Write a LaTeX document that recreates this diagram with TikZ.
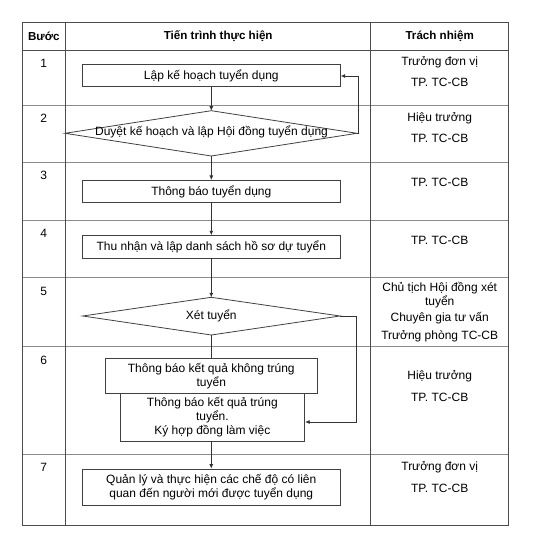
\documentclass[tikz,border=0pt]{standalone}
\usepackage{fontspec}
\setmainfont{Liberation Sans}
\usetikzlibrary{arrows.meta}
\begin{document}
\begin{tikzpicture}[x=1pt,y=-1pt,
  frame/.style={draw=black!70,line width=0.9pt},
  rowline/.style={draw=black!45,line width=0.8pt},
  hdrline/.style={draw=black!70,line width=0.9pt},
  procbox/.style={draw=black!75,line width=0.8pt},
  conn/.style={draw=black!80,line width=0.7pt},
  arr/.style={conn,-{Latex[length=4.5pt,width=4pt]}},
  txt/.style={font=\fontsize{12}{13.8}\selectfont,inner sep=0pt,align=center},
  hdr/.style={font=\bfseries\fontsize{11.6}{13.8}\selectfont,inner sep=0pt},
  num/.style={font=\fontsize{12}{13.8}\selectfont,inner sep=0pt}
]
\useasboundingbox (0,0) rectangle (539,541);
% table
\draw[rowline] (22,105.3) -- (508.7,105.3);
\draw[rowline] (22,162.7) -- (508.7,162.7);
\draw[rowline] (22,220) -- (508.7,220);
\draw[rowline] (22,277.7) -- (508.7,277.7);
\draw[rowline] (22,346.7) -- (508.7,346.7);
\draw[rowline] (22,454.3) -- (508.7,454.3);
\draw[hdrline] (22,50) -- (508.7,50);
\draw[frame] (65.7,22.7) -- (65.7,525.3);
\draw[frame] (370.7,22.7) -- (370.7,525.3);
\draw[frame] (22,22.7) rectangle (508.7,525.3);
% headers
\node[hdr] (h1) at (43.8,36.5) {Bước};
\node[hdr] (h2) at (218.2,36.5) {Tiến trình thực hiện};
\node[hdr] (h3) at (439.7,36.5) {Trách nhiệm};
% step numbers
\node[num] (n1) at (43.8,63) {1};
\node[num] (n2) at (43.8,118) {2};
\node[num] (n3) at (43.8,175.3) {3};
\node[num] (n4) at (43.8,233.3) {4};
\node[num] (n5) at (43.8,291) {5};
\node[num] (n6) at (43.8,360.7) {6};
\node[num] (n7) at (43.8,467.3) {7};
% responsibilities
\node[txt] (r1a) at (439.7,62) {Trưởng đơn vị};
\node[txt] (r1b) at (439.7,82.7) {TP. TC-CB};
\node[txt] (r2a) at (439.7,118.3) {Hiệu trưởng};
\node[txt] (r2b) at (439.7,138.3) {TP. TC-CB};
\node[txt] (r3) at (439.7,182.7) {TP. TC-CB};
\node[txt] (r4) at (439.7,240) {TP. TC-CB};
\node[txt] (r5a) at (439.7,288.3) {Chủ tịch Hội đồng xét};
\node[txt] (r5b) at (439.7,302.3) {tuyển};
\node[txt] (r5c) at (439.7,318.3) {Chuyên gia tư vấn};
\node[txt] (r5d) at (439.7,336.3) {Trưởng phòng TC-CB};
\node[txt] (r6a) at (439.7,376.7) {Hiệu trưởng};
\node[txt] (r6b) at (439.7,397.3) {TP. TC-CB};
\node[txt] (r7a) at (439.7,467.3) {Trưởng đơn vị};
\node[txt] (r7b) at (439.7,488) {TP. TC-CB};
% process boxes
\node[procbox,minimum width=258pt,minimum height=22.4pt,inner sep=0pt,txt] (b1) at (211.3,75.5) {Lập kế hoạch tuyển dụng};
\coordinate (d2t) at (211.3,110.7);
\coordinate (d2l) at (65,133.3);
\coordinate (d2r) at (357,133.3);
\coordinate (d2b) at (211.3,156);
\draw[procbox] (d2t) -- (d2r) -- (d2b) -- (d2l) -- cycle;
\node[txt] (d2) at (211.5,131.5) {Duyệt kế hoạch và lập Hội đồng tuyển dụng};
\node[procbox,minimum width=258pt,minimum height=22.3pt,inner sep=0pt,txt] (b3) at (211.3,191.5) {Thông báo tuyển dụng};
\node[procbox,minimum width=258pt,minimum height=22.3pt,inner sep=0pt,txt] (b4) at (211.3,246.8) {Thu nhận và lập danh sách hồ sơ dự tuyển};
\coordinate (d5t) at (211.3,297.3);
\coordinate (d5l) at (82.7,316);
\coordinate (d5r) at (340,316);
\coordinate (d5b) at (211.3,335);
\draw[procbox] (d5t) -- (d5r) -- (d5b) -- (d5l) -- cycle;
\node[txt] (d5) at (211.3,316) {Xét tuyển};
\node[procbox,minimum width=212pt,minimum height=35.7pt,inner sep=0pt,txt] (b6a) at (211.3,375.85) {Thông báo kết quả không trúng\\tuyển};
\node[procbox,minimum width=184.7pt,minimum height=47.3pt,inner sep=0pt,txt] (b6b) at (212.35,417.35) {Thông báo kết quả trúng\\tuyển.\\Ký hợp đồng làm việc};
\node[procbox,minimum width=258pt,minimum height=36.7pt,inner sep=0pt,txt] (b7) at (211.3,487.35) {Quản lý và thực hiện các chế độ có liên\\quan đến người mới được tuyển dụng};
% connectors
\draw[arr] (b1.south) -- (d2t);
\draw[arr] (d2r) -- (358,133.3) |- (b1.east |- 0,76) coordinate (b1in);
\draw[arr] (d2b) -- (b3.north);
\draw[arr] (b3.south) -- (b4.north);
\draw[arr] (b4.south) -- (d5t);
\draw[conn] (d5b) -- (b6a.north);
\draw[arr] (d5r) -- (356,316) |- (b6b.east |- 0,422);
\draw[arr] (b6b.south -| b7.north) -- (b7.north);
\end{tikzpicture}
\end{document}
